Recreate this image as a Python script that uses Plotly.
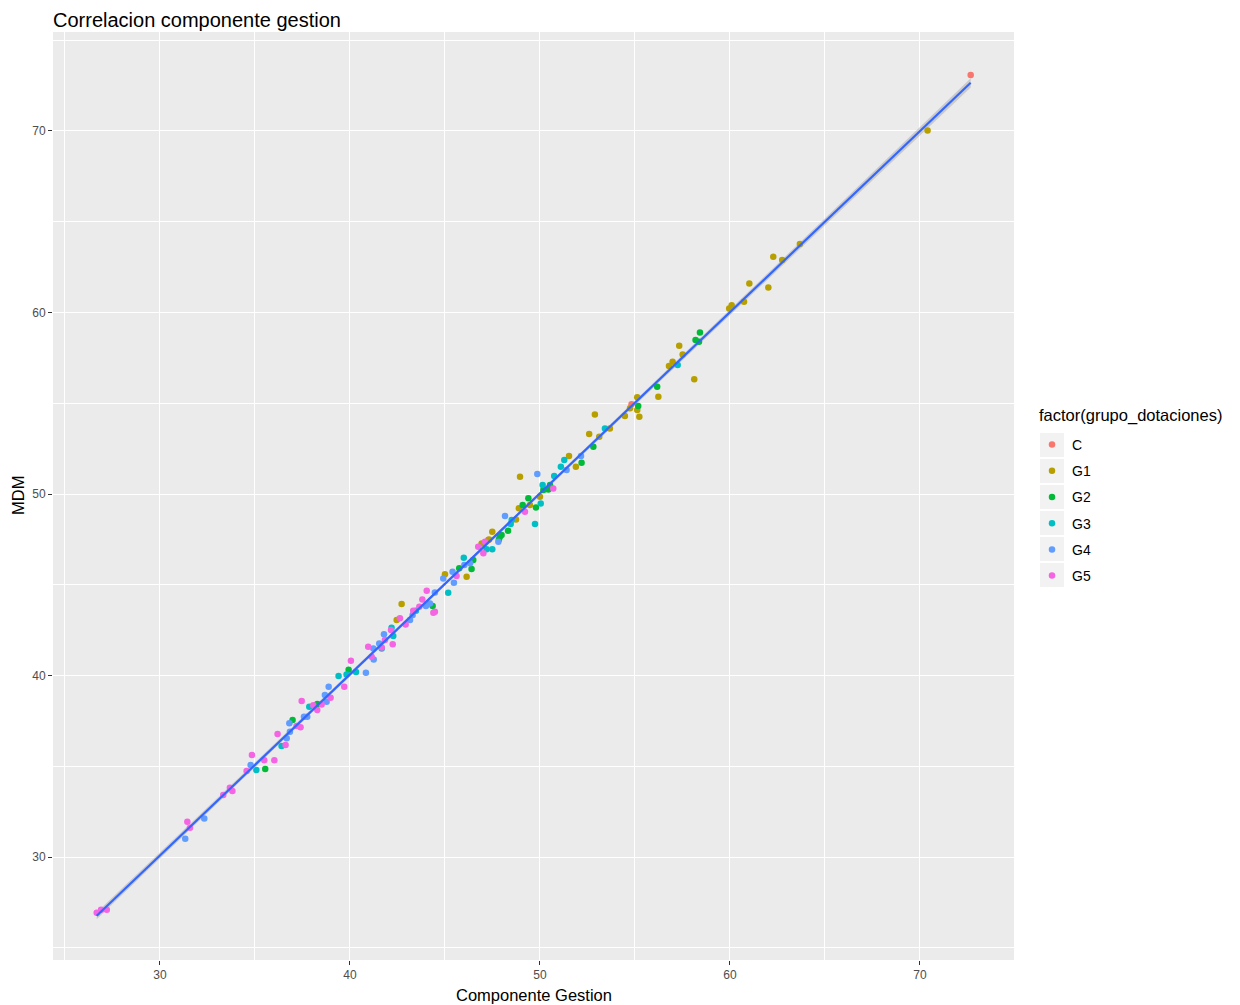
import numpy as np
import plotly.graph_objects as go

groups = ["C", "G1", "G2", "G3", "G4", "G5"]
colors = ["#F8766D", "#B79F00", "#00BA38", "#00BFC4", "#619CFF", "#F564E3"]

c_x = [72.67, 54.82, 47.28]
c_y = [73.08, 54.94, 47.47]

g1_x = [70.4, 63.68, 62.75, 62.28, 62.02, 61.02, 60.74, 60.09, 59.96, 58.12, 57.51, 57.33, 56.98, 56.79,
        56.23, 55.23, 55.12, 55.12, 54.74, 54.47, 53.68, 53.12, 52.89, 52.59, 51.89, 51.53, 50.0, 49.47,
        48.95, 48.89, 48.74, 47.49, 47.32, 46.93, 46.14, 45.0, 42.72, 42.46]
g1_y = [70.02, 63.77, 62.89, 63.07, 61.38, 61.6, 60.59, 60.4, 60.22, 56.32, 57.69, 58.17, 57.29, 57.05,
        55.36, 54.26, 55.33, 54.63, 54.72, 54.3, 53.61, 53.15, 54.38, 53.3, 51.5, 52.09, 49.85, 49.39,
        50.95, 49.21, 48.6, 47.92, 47.5, 47.28, 45.44, 45.58, 43.94, 43.06]

g2_x = [58.42, 58.37, 58.19, 56.17, 55.17, 52.81, 52.19, 50.53, 50.44, 50.18, 49.79, 49.39, 49.09, 48.32,
        47.98, 47.89, 47.84, 46.49, 46.4, 45.75, 44.35, 39.93, 38.28, 36.98, 35.54]
g2_y = [58.9, 58.39, 58.48, 55.91, 54.85, 52.6, 51.72, 50.5, 50.25, 50.22, 49.26, 49.76, 49.39, 47.98,
        47.74, 47.65, 47.5, 46.36, 45.87, 45.91, 43.83, 40.32, 38.43, 37.55, 34.85]

g3_x = [57.25, 53.42, 51.28, 51.1, 50.75, 50.14, 50.04, 49.74, 48.51, 48.46, 47.49, 47.19, 45.99, 45.17,
        43.47, 42.28, 42.19, 41.67, 40.32, 39.82, 39.4, 37.86, 36.4, 35.07]
g3_y = [57.11, 53.61, 51.87, 51.5, 50.99, 50.5, 49.48, 48.35, 48.57, 48.35, 46.96, 46.95, 46.49, 44.56,
        43.57, 42.18, 42.63, 41.49, 40.19, 40.06, 39.97, 38.28, 36.12, 34.79]

g4_x = [52.16, 51.4, 49.86, 48.16, 47.81, 46.32, 46.02, 45.47, 45.4, 44.91, 44.47, 44.21, 44.0, 43.3,
        43.16, 41.79, 41.54, 41.23, 41.25, 40.84, 38.88, 38.77, 38.68, 37.75, 37.58, 36.84, 36.81, 36.67,
        34.77, 32.33, 31.33]
g4_y = [52.1, 51.32, 51.1, 48.79, 47.37, 46.18, 46.09, 45.11, 45.72, 45.35, 44.58, 43.97, 43.83, 43.33,
        43.06, 42.27, 41.77, 41.49, 40.89, 40.15, 39.38, 38.56, 38.93, 37.73, 37.73, 36.9, 37.37, 36.54,
        35.07, 32.13, 31.01]

g5_x = [50.7, 49.21, 47.11, 47.02, 46.75, 45.61, 44.47, 44.39, 44.04, 43.81, 43.65, 43.33, 42.93, 42.63,
        42.25, 42.16, 41.84, 41.67, 41.14, 40.96, 40.05, 39.7, 38.98, 38.51, 38.28, 38.07, 37.46, 37.4,
        37.19, 36.61, 36.19, 36.02, 35.49, 34.84, 34.56, 33.81, 33.68, 33.33, 31.58, 31.44, 27.2, 26.9, 26.67]
g5_y = [50.31, 49.02, 47.37, 46.73, 47.09, 45.48, 43.51, 43.46, 44.67, 44.19, 43.79, 43.57, 42.81, 43.15,
        41.72, 42.51, 41.96, 41.55, 41.03, 41.59, 40.82, 39.38, 38.78, 38.41, 38.1, 38.37, 38.6, 37.15,
        37.22, 36.17, 36.78, 35.34, 35.34, 35.62, 34.74, 33.64, 33.82, 33.42, 31.61, 31.94, 27.1, 27.1, 26.93]

xs = [c_x, g1_x, g2_x, g3_x, g4_x, g5_x]
ys = [c_y, g1_y, g2_y, g3_y, g4_y, g5_y]

x_ticks = [30, 40, 50, 60, 70]
y_ticks = [30, 40, 50, 60, 70]

FONT = "Liberation Sans, Arial, sans-serif"

fig = go.Figure()

# linear fit with 95% confidence band (geom_smooth(method = "lm"))
ax = np.concatenate([np.array(v, dtype=float) for v in xs])
ay = np.concatenate([np.array(v, dtype=float) for v in ys])
n = len(ax)
slope, intercept = np.polyfit(ax, ay, 1)
resid = ay - (slope * ax + intercept)
s = np.sqrt(np.sum(resid ** 2) / (n - 2))
xm = ax.mean()
sxx = np.sum((ax - xm) ** 2)
xl = np.linspace(ax.min(), ax.max(), 80)
yl = slope * xl + intercept
se = s * np.sqrt(1.0 / n + (xl - xm) ** 2 / sxx)
tq = 1.975
fig.add_trace(go.Scatter(
    x=np.concatenate([xl, xl[::-1]]),
    y=np.concatenate([yl + tq * se, (yl - tq * se)[::-1]]),
    fill="toself", fillcolor="rgba(153,153,153,0.4)", line=dict(width=0),
    mode="lines", showlegend=False, hoverinfo="skip"))

for g, col, x, y in zip(groups, colors, xs, ys):
    fig.add_trace(go.Scatter(
        x=x, y=y, mode="markers", name=g, legendgroup=g,
        marker=dict(color=col, size=6.5, line=dict(width=0))))

fig.add_trace(go.Scatter(x=xl, y=yl, mode="lines", line=dict(color="#3366FF", width=2.2),
                         showlegend=False, hoverinfo="skip"))

# page has an 8px body margin; figure is sized so the page fills 1240x1005
OFF = 8
W, H = 1240 - OFF, 1005 - OFF
# panel position in page pixels
PL, PR, PT, PB = 53, 1014, 32, 960
ml, mr, mt, mb = PL - OFF, (1240 - PR), PT - OFF, (1005 - PB)
pw = PR - PL
ph = PB - PT

def px_x(x):
    return (x - PL) / pw

def px_y(y):
    return 1 - (y - PT) / ph

# grey legend key backgrounds (ggplot style)
shapes = []
key_centers = [445, 471, 497, 523, 549, 575]
for cy in key_centers:
    shapes.append(dict(type="rect", xref="paper", yref="paper",
                       x0=px_x(1040), x1=px_x(1064), y0=px_y(cy + 12), y1=px_y(cy - 12),
                       fillcolor="#F2F2F2", line=dict(width=0), layer="below"))

annotations = [
    dict(text="factor(grupo_dotaciones)", xref="paper", yref="paper",
         x=px_x(1037), y=px_y(416), xanchor="left", yanchor="middle", showarrow=False,
         font=dict(size=16.5, color="black", family=FONT)),
    dict(text="Componente Gestion", xref="paper", yref="paper",
         x=0.5, y=px_y(995), xanchor="center", yanchor="middle", showarrow=False,
         font=dict(size=16.5, color="black", family=FONT)),
    dict(text="MDM", xref="paper", yref="paper", textangle=-90,
         x=px_x(18), y=0.5, xanchor="center", yanchor="middle", showarrow=False,
         font=dict(size=16.5, color="black", family=FONT)),
]

fig.update_layout(
    width=W, height=H,
    margin=dict(l=ml, r=mr, t=mt, b=mb),
    paper_bgcolor="white", plot_bgcolor="#EBEBEB",
    font=dict(family=FONT, color="black"),
    title=dict(text="Correlacion componente gestion", font=dict(size=20, color="black", family=FONT),
               x=(PL - OFF) / W, xanchor="left", xref="container", y=1 - 12 / H, yanchor="middle",
               yref="container", pad=dict(t=0)),
    xaxis=dict(range=[24.37, 74.95], tickvals=x_ticks, ticktext=[str(v) for v in x_ticks],
               showgrid=True, gridcolor="white", gridwidth=1.4, zeroline=False,
               ticks="outside", ticklen=4, tickcolor="#333333", tickwidth=1,
               tickfont=dict(size=12, color="#4D4D4D", family=FONT),
               minor=dict(tickvals=[25, 35, 45, 55, 65, 75], showgrid=True, gridcolor="white", gridwidth=0.7),
               automargin=False, showline=False),
    yaxis=dict(range=[24.33, 75.45], tickvals=y_ticks, ticktext=[str(v) for v in y_ticks],
               showgrid=True, gridcolor="white", gridwidth=1.4, zeroline=False,
               ticks="outside", ticklen=4, tickcolor="#333333", tickwidth=1,
               tickfont=dict(size=12, color="#4D4D4D", family=FONT),
               minor=dict(tickvals=[25, 35, 45, 55, 65, 75], showgrid=True, gridcolor="white", gridwidth=0.7),
               automargin=False, showline=False),
    legend=dict(font=dict(size=14, color="black", family=FONT),
                x=px_x(1032), xanchor="left", y=px_y(429), yanchor="top",
                bgcolor="rgba(0,0,0,0)", tracegroupgap=5, itemwidth=30),
    shapes=shapes,
    annotations=annotations,
)

fig.write_html("out.html")
